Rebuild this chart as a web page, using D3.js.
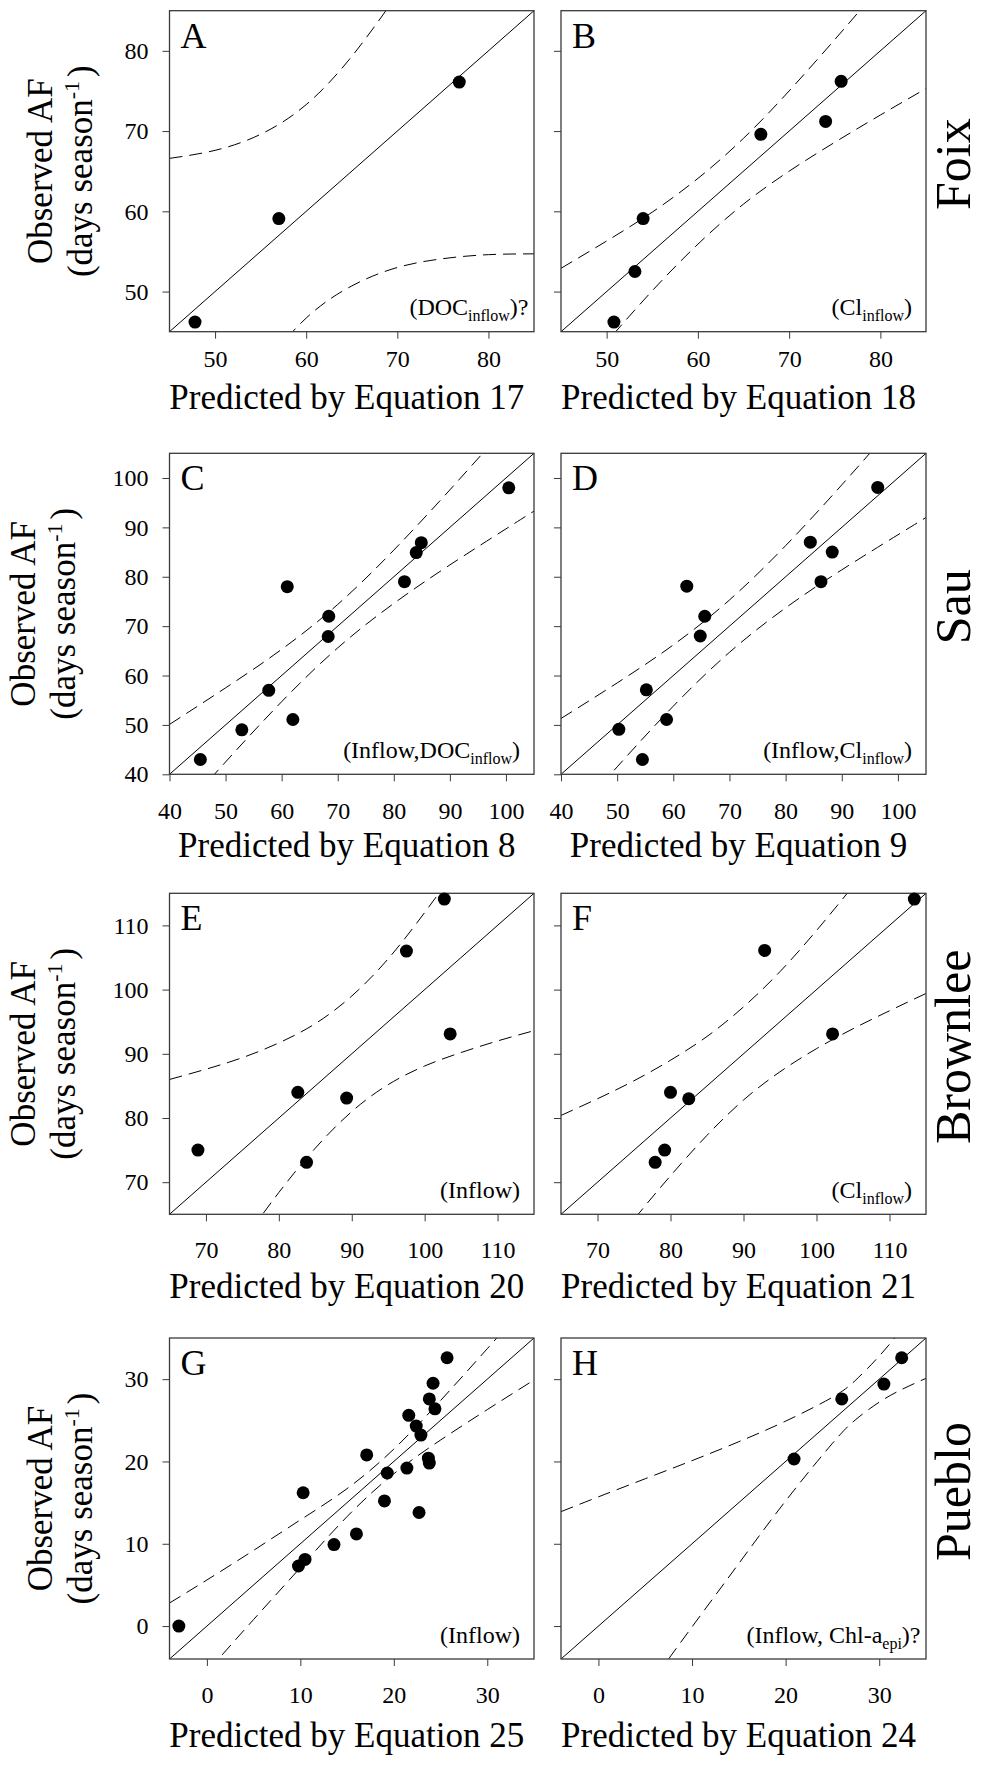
<!DOCTYPE html>
<html>
<head>
<meta charset="utf-8">
<script src="https://cdn.jsdelivr.net/npm/d3@7"></script>
<style>
  body { margin: 0; background: #fff; }
  svg { display: block; font-family: "Liberation Serif", "Times New Roman", serif; }
</style>
</head>
<body>
<div class="canvas"></div>
<script>
// one row per lake, same range on both axes
const lakes = ['Foix', 'Sau', 'Brownlee', 'Pueblo']
const rowDomains = [[45, 85], [40, 105], [65, 115], [-4, 35]]
const rowTicks = [
  [50, 60, 70, 80],
  [40, 50, 60, 70, 80, 90, 100],
  [70, 80, 90, 100, 110],
  [0, 10, 20, 30]
]

const letters = ['A', 'B', 'C', 'D', 'E', 'F', 'G', 'H']
const equations = [17, 18, 8, 9, 20, 21, 25, 24]
// [text, subscript, tail]
const predictors = [
  ['(DOC', 'inflow', ')?'],
  ['(Cl', 'inflow', ')'],
  ['(Inflow,DOC', 'inflow', ')'],
  ['(Inflow,Cl', 'inflow', ')'],
  ['(Inflow)', '', ''],
  ['(Cl', 'inflow', ')'],
  ['(Inflow)', '', ''],
  ['(Inflow, Chl-a', 'epi', ')?']
]

// [predicted, observed]
const pointsA = [[47.8, 46.2], [57.0, 59.1], [76.8, 76.1]]
const pointsB = [[50.8, 46.2], [53.1, 52.5], [54.0, 59.1], [66.9, 69.6], [74.0, 71.2], [75.7, 76.2]]
const pointsC = [[45.5, 43.0], [52.9, 49.0], [57.7, 57.0], [62.0, 51.1], [61.0, 78.0], [68.4, 72.0],
  [68.3, 67.9], [81.9, 79.0], [84.0, 84.9], [84.9, 86.9], [100.5, 98.0]]
const pointsD = [[50.3, 49.1], [55.2, 57.1], [58.8, 51.1], [54.5, 43.0], [62.4, 78.1], [65.6, 72.0],
  [64.8, 68.0], [84.4, 87.0], [88.3, 85.0], [86.3, 79.0], [96.4, 98.1]]
const pointsE = [[68.9, 75.0], [82.6, 84.0], [83.8, 73.1], [89.3, 83.1], [97.5, 106.0], [102.7, 114.1], [103.5, 93.1]]
const pointsF = [[77.9, 73.1], [79.2, 75.0], [80.0, 84.0], [82.5, 83.0], [92.9, 106.1], [102.2, 93.1], [113.4, 114.1]]
const pointsG = [[-3.0, 0.0], [9.8, 7.3], [10.5, 8.1], [10.3, 16.2], [13.6, 9.9], [16.0, 11.2], [17.1, 20.8],
  [19.0, 15.2], [19.3, 18.6], [21.4, 19.2], [21.6, 25.6], [22.4, 24.3], [22.9, 23.2], [22.7, 13.8],
  [23.7, 20.4], [23.8, 19.8], [23.8, 27.6], [24.4, 26.4], [24.2, 29.5], [25.7, 32.6]]
const pointsH = [[20.9, 20.3], [26.0, 27.6], [30.5, 29.4], [32.4, 32.6]]

// dashed 95% bands
const upperA = [[45, 66.6], [50, 67.6], [55, 69.6], [60, 73.3], [65, 79.3], [70, 87.0]]
const lowerA = [[55, 40.4], [60, 46.7], [65, 50.7], [70, 53.0], [75, 54.1], [80, 54.6], [85, 54.7]]
const upperB = [[45, 52.9], [50, 56.3], [55, 59.9], [60, 64.1], [65, 69.1], [70, 75.0], [75, 81.4], [80, 88.0]]
const lowerB = [[45, 37.1], [50, 43.7], [55, 50.1], [60, 55.9], [65, 60.9], [70, 65.0], [75, 68.6], [80, 72.0], [85, 75.3]]
const upperC = [[40, 50.1], [50, 57.5], [60, 65.3], [70, 74.4], [80, 85.4], [90, 97.6], [100, 110.3]]
const lowerC = [[40, 29.9], [50, 42.5], [60, 54.7], [70, 65.6], [80, 74.6], [90, 82.4], [100, 89.7], [105, 93.3]]
const upperD = [[40, 51.3], [50, 58.5], [60, 66.2], [70, 75.3], [80, 86.3], [90, 98.6], [100, 111.5]]
const lowerD = [[40, 28.7], [50, 41.5], [60, 53.8], [70, 64.7], [80, 73.7], [90, 81.4], [100, 88.5], [105, 92.0]]
const upperE = [[65, 86.0], [70, 87.6], [75, 89.4], [80, 91.7], [85, 94.7], [90, 99.0], [95, 104.8], [100, 112.0], [105, 119.8]]
const lowerE = [[70, 52.4], [75, 60.6], [80, 68.4], [85, 75.3], [90, 81.0], [95, 85.2], [100, 88.1], [105, 90.2], [110, 92.0], [115, 93.6]]
const upperF = [[65, 80.4], [70, 83.0], [75, 85.8], [80, 89.0], [85, 92.7], [90, 97.3], [95, 102.8], [100, 109.2], [105, 116.1]]
const lowerF = [[70, 57.0], [75, 64.2], [80, 71.0], [85, 77.3], [90, 82.8], [95, 87.2], [100, 90.8], [105, 93.9], [110, 96.7], [115, 99.4]]
const upperG = [[-4, 2.8], [0, 5.6], [5, 9.2], [10, 12.9], [15, 16.7], [20, 21.5], [25, 27.4], [30, 33.7], [35, 40.1]]
const lowerG = [[-4, -10.8], [0, -5.6], [5, 0.8], [10, 7.1], [15, 13.3], [20, 18.5], [25, 22.6], [30, 26.3], [35, 29.9]]
const upperH = [[-4, 13.9], [0, 15.7], [5, 17.9], [10, 20.1], [15, 22.4], [20, 24.9], [25, 27.8], [27.5, 29.9], [30, 32.8], [32.5, 36.2], [35, 39.9]]
const lowerH = [[5, -7.9], [10, -0.1], [15, 7.6], [20, 15.2], [25, 22.2], [27.5, 25.1], [30, 27.2], [32.5, 28.8], [35, 30.1]]

const points = [pointsA, pointsB, pointsC, pointsD, pointsE, pointsF, pointsG, pointsH]
const uppers = [upperA, upperB, upperC, upperD, upperE, upperF, upperG, upperH]
const lowers = [lowerA, lowerB, lowerC, lowerD, lowerE, lowerF, lowerG, lowerH]

// layout
const width = 985
const height = 1765
const colX = [[169.5, 534], [561, 926]]
const rowY = [[10.7, 331.7], [453.3, 774.3], [893.3, 1214.3], [1338, 1659]]
const tickLabelGap = [35, 45, 44, 44]
const titleGap = [77.6, 83, 84, 88]
const yTitleX = [51.5, 35, 35, 51.5]
const frameColor = '#3a3a3a'

const svg = d3.select('.canvas')
  .append('svg')
    .attr('width', width)
    .attr('height', height)
    .attr('font-family', 'Liberation Serif')

svg.append('rect')
  .attr('width', width)
  .attr('height', height)
  .attr('fill', '#fff')

letters.forEach((letter, i) => {
  const row = Math.floor(i / 2)
  const col = i % 2
  const [x0, x1] = colX[col]
  const [y0, y1] = rowY[row]
  const dom = rowDomains[row]

  const x = d3.scaleLinear().domain(dom).range([x0, x1])
  const y = d3.scaleLinear().domain(dom).range([y1, y0])

  const g = svg.append('g')

  g.append('clipPath')
    .attr('id', `clip-${i}`)
    .append('rect')
      .attr('x', x0)
      .attr('y', y0)
      .attr('width', x1 - x0)
      .attr('height', y1 - y0)

  const plot = g.append('g').attr('clip-path', `url(#clip-${i})`)

  // 1:1 line
  plot.append('line')
    .attr('x1', x(dom[0]))
    .attr('y1', y(dom[0]))
    .attr('x2', x(dom[1]))
    .attr('y2', y(dom[1]))
    .attr('stroke', '#000')
    .attr('stroke-width', 1)

  const band = d3.line()
    .x(d => x(d[0]))
    .y(d => y(d[1]))
    .curve(d3.curveNatural)

  plot.selectAll('path.band')
    .data([uppers[i], lowers[i]])
    .enter()
    .append('path')
      .attr('class', 'band')
      .attr('d', band)
      .attr('fill', 'none')
      .attr('stroke', '#000')
      .attr('stroke-width', 1)
      .attr('stroke-dasharray', '13,7')

  // axes
  const xAxis = d3.axisBottom(x)
    .tickValues(rowTicks[row])
    .tickSize(7)
    .tickSizeOuter(0)

  const xg = g.append('g')
    .attr('transform', `translate(0, ${y1})`)
    .call(xAxis)
  xg.select('.domain').remove()
  xg.attr('font-family', null).attr('font-size', 24).attr('color', frameColor)
  xg.selectAll('text')
    .attr('y', tickLabelGap[row])
    .attr('dy', null)
    .attr('fill', '#000')

  const yAxis = d3.axisLeft(y)
    .tickValues(rowTicks[row])
    .tickSize(7)
    .tickSizeOuter(0)
  if (col === 1) yAxis.tickFormat(() => '')

  const yg = g.append('g')
    .attr('transform', `translate(${x0}, 0)`)
    .call(yAxis)
  yg.select('.domain').remove()
  yg.attr('font-family', null).attr('font-size', 24).attr('color', frameColor)
  yg.selectAll('text')
    .attr('x', -21)
    .attr('fill', '#000')

  // frame
  g.append('rect')
    .attr('x', x0)
    .attr('y', y0)
    .attr('width', x1 - x0)
    .attr('height', y1 - y0)
    .attr('fill', 'none')
    .attr('stroke', frameColor)
    .attr('stroke-width', 1.3)

  g.selectAll('circle')
    .data(points[i])
    .enter()
    .append('circle')
      .attr('cx', d => x(d[0]))
      .attr('cy', d => y(d[1]))
      .attr('r', 6.5)
      .attr('fill', '#000')

  g.append('text')
    .attr('x', x0 + 11)
    .attr('y', y0 + 37)
    .attr('font-size', 36)
    .text(letter)

  // predictor note, bottom right
  const [main, sub, tail] = predictors[i]
  const hasQ = tail.endsWith('?')
  const note = g.append('text')
    .attr('x', x1 - 14 + (hasQ ? 8.5 : 0))
    .attr('y', y1 - 16.5)
    .attr('text-anchor', 'end')
    .attr('font-size', 24)
  note.append('tspan').text(main)
  if (sub) {
    note.append('tspan').attr('font-size', 16).attr('dy', 6).text(sub)
    note.append('tspan').attr('dy', -6).text(tail)
  }

  g.append('text')
    .attr('x', (x0 + x1) / 2 - 5)
    .attr('y', y1 + titleGap[row])
    .attr('text-anchor', 'middle')
    .attr('font-size', 35)
    .text(`Predicted by Equation ${equations[i]}`)

  const cy = (y0 + y1) / 2
  if (col === 0) {
    g.append('text')
      .attr('transform', `translate(${yTitleX[row]}, ${cy}) rotate(-90)`)
      .attr('text-anchor', 'middle')
      .attr('font-size', 35)
      .text('Observed AF')

    const t2 = g.append('text')
      .attr('transform', `translate(${yTitleX[row] + 40}, ${cy}) rotate(-90)`)
      .attr('text-anchor', 'middle')
      .attr('font-size', 35)
    t2.append('tspan').text('(days season')
    t2.append('tspan').attr('font-size', 22).attr('dy', -13).text('-1')
    t2.append('tspan').attr('dy', 13).attr('dx', 4).text(')')
  } else {
    g.append('text')
      .attr('transform', `translate(970, ${cy - 7}) rotate(-90)`)
      .attr('text-anchor', 'middle')
      .attr('font-size', 50)
      .text(lakes[row])
  }
})
</script>
</body>
</html>
